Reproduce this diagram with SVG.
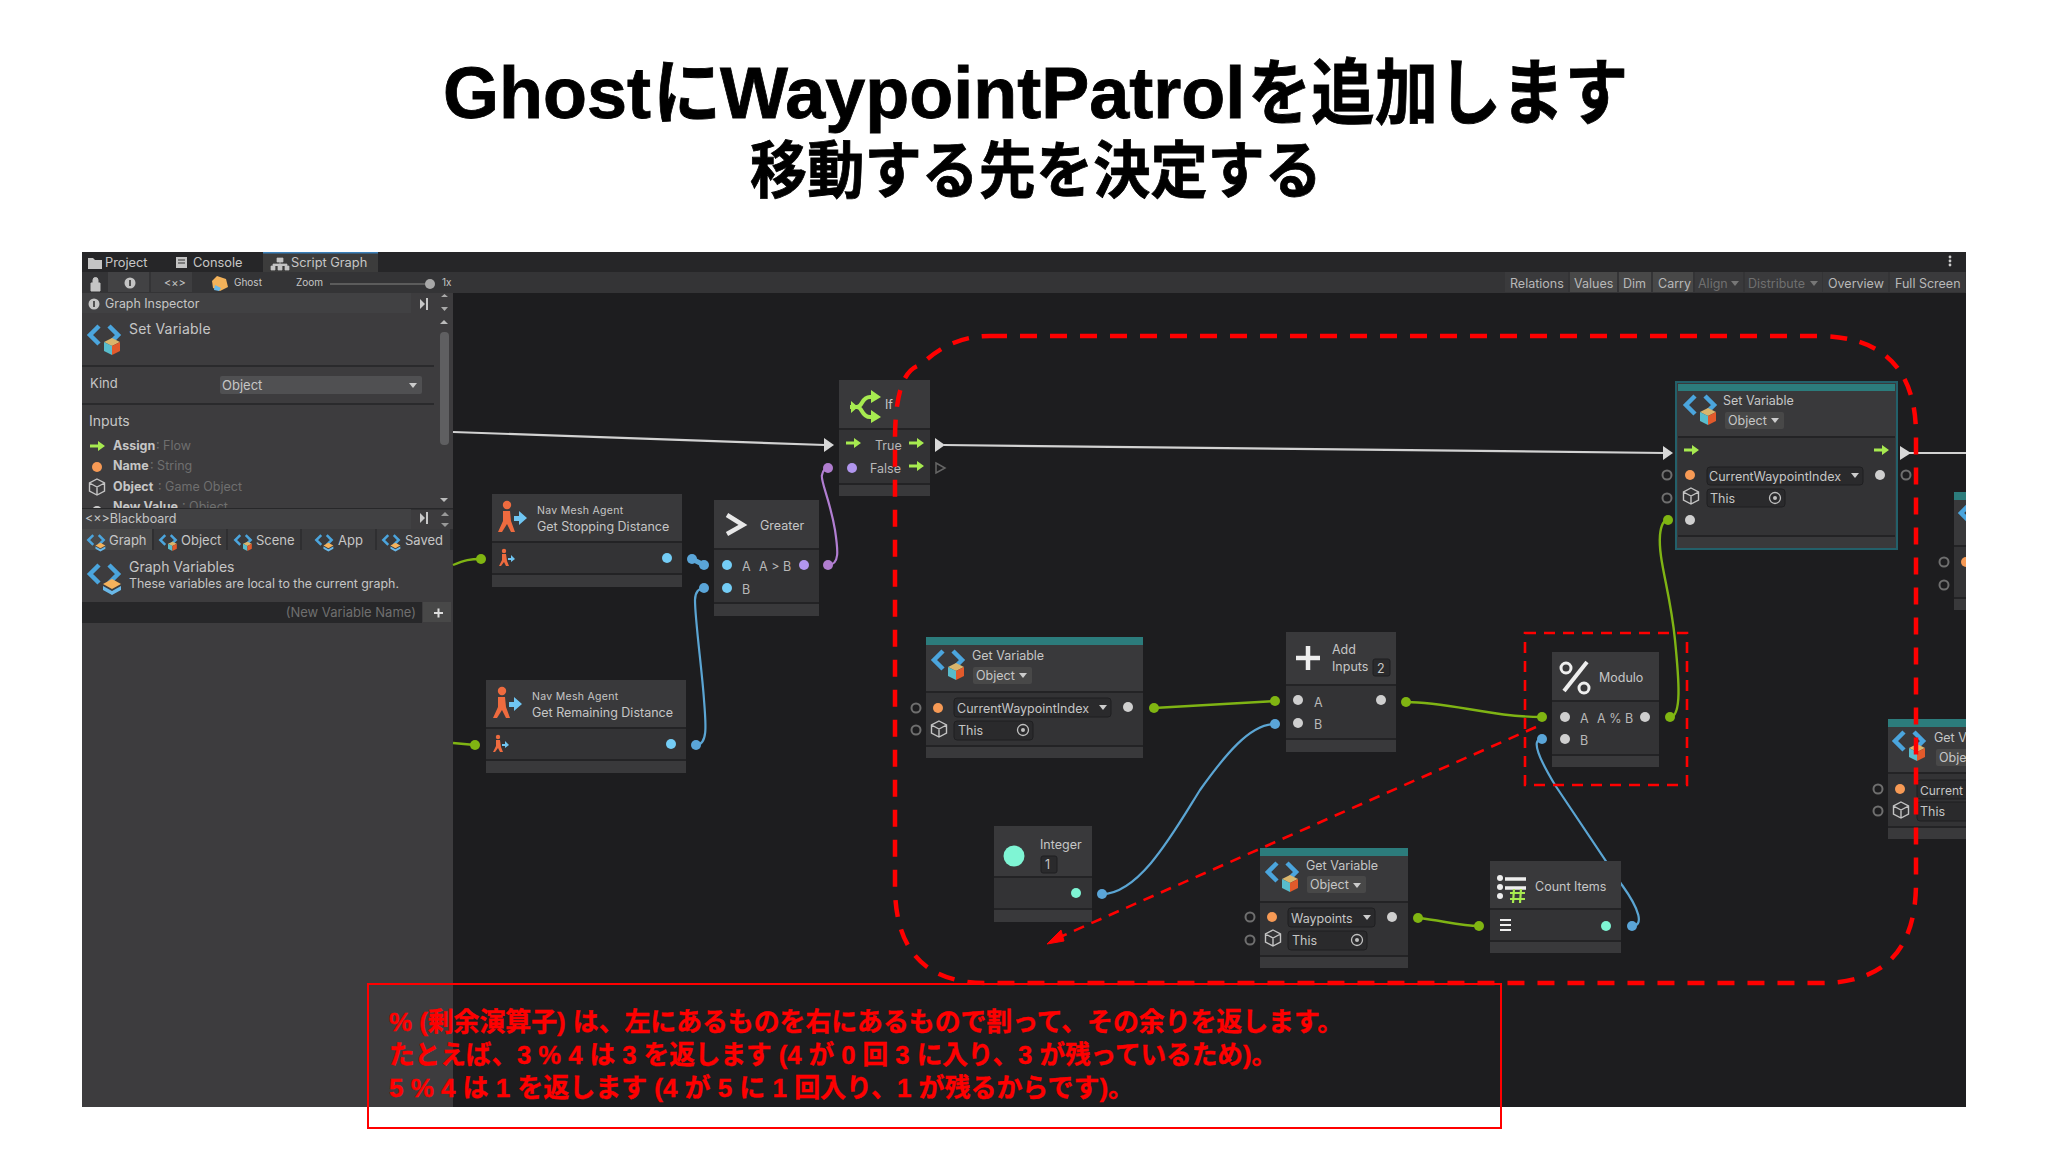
<svg xmlns="http://www.w3.org/2000/svg" xmlns:xlink="http://www.w3.org/1999/xlink" width="2048" height="1152" viewBox="0 0 2048 1152">
<style>
text{font-family:Inter,"Noto Sans","Noto Sans CJK JP",sans-serif;fill:#c6c6c6;font-size:12.5px}
.jp{font-family:"Liberation Sans","Noto Sans CJK JP",sans-serif;font-weight:700;fill:#000;stroke:#000;stroke-width:.8}
.note{font-family:"Liberation Sans","Noto Sans CJK JP",sans-serif;font-weight:700;fill:#f00;font-size:26.5px;stroke:#f00;stroke-width:.4}
.sm{font-size:12px}.tb{font-size:12.5px;fill:#b8b8b8}.dim,.tb.dim{fill:#6f6f6f}.btn{fill:#484848}
.bold{font-weight:700}
.n{fill:#39393b}.b{fill:#333335}.sep{stroke:#232325;stroke-width:2;fill:none}.teal{fill:#2c7c7c}
.fld{fill:#2a2a2c;stroke:#1f1f21}
.w{stroke:#d2d2d2;stroke-width:2.2;fill:none}.ww{fill:#d8d8d8}
.g{stroke:#7fb414;stroke-width:2.4;fill:none}.gd{fill:#80b512}
.bl{stroke:#5ba5d3;stroke-width:2.2;fill:none}.bd{fill:#5aa5d8}
.pu{stroke:#b17ed2;stroke-width:2.2;fill:none}.pd{fill:#b07dcf}
.pg{fill:#cfcfcf}.po{fill:#f79a55}.pb{fill:#74cdf6}.pp{fill:#b196ee}.pt{fill:#7ff5d4}
.op{fill:none;stroke:#6e6e6e;stroke-width:2}
.rd{fill:none;stroke:#f00;stroke-width:4.5;stroke-dasharray:17 13}
.rt{fill:none;stroke:#f00;stroke-width:2.6;stroke-dasharray:11 8}
</style>
<defs>
<clipPath id="scr"><rect x="82" y="252" width="1884" height="855"/></clipPath>
<clipPath id="nv"><rect x="82" y="490" width="360" height="18"/></clipPath>
<g id="chev"><path d="M-5,-9L-14,0L-5,9M5,-9L14,0L5,9" fill="none" stroke="#4ba5dd" stroke-width="4.5"/></g>
<g id="vi"><use href="#chev"/><path d="M8,3L16,7L8,11L0,7Z" fill="#d9b56c"/><path d="M0,7L8,11V20L0,16Z" fill="#58bccc"/><path d="M16,7L8,11V20L16,16Z" fill="#e25a2b"/></g>
<g id="vg"><use href="#chev"/><path d="M8,5L17,10L8,15L-1,10Z" fill="#f5b25c"/><path d="M-1,12L8,17L17,12V16L8,21L-1,16Z" fill="#6ab8e8"/></g>
<g id="nav"><circle cx="-3" cy="-13" r="4.2" fill="#ee6b3f"/><path d="M-7,-7H0L1,3L5,14H1L-3,6L-8,14H-12L-7,3Z" fill="#ee6b3f"/><path d="M4,-2H9V-7L17,0L9,7V3H4Z" fill="#6fc5f2"/></g>
<g id="navs"><circle cx="-1" cy="-7" r="2.2" fill="#ee6b3f"/><path d="M-3,-4H1L2,3L4,8H1L-1,4L-4,8H-6L-3,2Z" fill="#ee6b3f"/><path d="M3,0H6V-3L10,1L6,4V2H3Z" fill="#6fc5f2"/></g>
<g id="fa"><path d="M-7,-1.5H1V-5L8,0L1,5V1.5H-7Z" fill="#a7ea50"/></g>
<g id="cube"><path d="M0,-8L7.5,-4V4L0,8L-7.5,4V-4ZM-7.5,-4L0,0L7.5,-4M0,0V8" fill="none" stroke="#c4c4c4" stroke-width="1.4"/></g>
<g id="tg"><circle r="5.5" fill="none" stroke="#c0c0c0" stroke-width="1.3"/><circle r="2" fill="#c0c0c0"/></g>
<path id="dn" d="M-4,-2H4L0,3Z"/>
<g id="pin"><path d="M-5,-5L0,0L-5,5Z" fill="#c8c8c8"/><path d="M2,-6V6" stroke="#c8c8c8" stroke-width="2"/></g>
</defs>

<rect width="2048" height="1152" fill="#fff"/>
<text class="jp" y="118" style="font-size:72px"><tspan x="443">Ghost</tspan><tspan x="653" textLength="68" lengthAdjust="spacingAndGlyphs">に</tspan><tspan x="720">WaypointPatrol</tspan><tspan x="1248" textLength="380" lengthAdjust="spacingAndGlyphs">を追加します</tspan></text>
<text class="jp" x="750" y="193" style="font-size:62px" textLength="572" lengthAdjust="spacingAndGlyphs">移動する先を決定する</text>

<g clip-path="url(#scr)">
<rect x="82" y="252" width="1884" height="855" fill="#1d1d1f"/>

<g id="toolbar">
<rect x="82" y="252" width="1884" height="20" fill="#262628"/>
<rect x="263" y="252" width="115" height="20" fill="#3c3c3c"/><rect x="263" y="252" width="115" height="1.5" fill="#3a7fb8"/>
<path d="M88,258h5l2,2h7v9H88Z" fill="#c4c4c4"/><text x="105" y="267" style="font-size:12.8px">Project</text>
<rect x="176" y="257" width="11" height="11" fill="#c4c4c4"/><path d="M178,260h7M178,263h7" stroke="#333"/><text x="193" y="267" style="font-size:12.8px">Console</text>
<path d="M277,258h6v4h-6ZM271,266h4v4h-4ZM278,266h4v4h-4ZM285,266h4v4h-4ZM273,266v-2h14v2M280,262v4" fill="#c4c4c4" stroke="#c4c4c4" stroke-width=".7"/><text x="291" y="267" style="font-size:12.8px">Script Graph</text>
<rect x="82" y="272" width="1884" height="21" fill="#343436"/>
<rect x="108" y="272" width="41" height="20" fill="#424244"/><rect x="151" y="272" width="41" height="20" fill="#3e3e40"/>
<path d="M91,283h9v8h-9ZM93,283v-3a2.5,2.5 0 0 1 5,0v3" fill="#c4c4c4" stroke="#c4c4c4"/>
<circle cx="130" cy="283" r="5.5" fill="#c4c4c4"/><rect x="129.200" y="280" width="1.6" height="6" fill="#333"/>
<text x="164" y="287" style="font-size:11px">&lt;×&gt;</text>
<path d="M217,276l9,3l2,8l-8,4l-7,-3l-1,-7Z" fill="#f3b25a"/><path d="M215,285l6,3l-2,3l-5,-1Z" fill="#6ab8e8"/>
<text x="234" y="286" style="font-size:10px">Ghost</text><text x="296" y="286" style="font-size:10px">Zoom</text>
<rect x="330" y="283" width="100" height="2" fill="#5c5c5c"/><circle cx="430" cy="284" r="5" fill="#a8a8a8"/><text x="442" y="286" style="font-size:10px">1x</text>
<rect x="1505" y="272" width="63" height="20" fill="#3a3a3c"/><text class="tb" x="1510" y="288">Relations</text>
<rect x="1570" y="272" width="47" height="20" class="btn"/><text class="tb" x="1574" y="288">Values</text>
<rect x="1619" y="272" width="32" height="20" class="btn"/><text class="tb" x="1623" y="288">Dim</text>
<rect x="1653" y="272" width="40" height="20" class="btn"/><text class="tb" x="1658" y="288">Carry</text>
<rect x="1695" y="272" width="48" height="20" fill="#3a3a3c"/><text class="tb dim" x="1698" y="288">Align</text><use href="#dn" x="1735" y="283" fill="#777"/>
<rect x="1745" y="272" width="77" height="20" fill="#3a3a3c"/><text class="tb dim" x="1748" y="288">Distribute</text><use href="#dn" x="1814" y="283" fill="#777"/>
<rect x="1823" y="272" width="65" height="20" fill="#3a3a3c"/><text class="tb" x="1828" y="288">Overview</text>
<rect x="1890" y="272" width="75" height="20" fill="#3a3a3c"/><text class="tb" x="1895" y="288">Full Screen</text>
<circle cx="1950" cy="257" r="1.4" fill="#ccc"/><circle cx="1950" cy="261" r="1.4" fill="#ccc"/><circle cx="1950" cy="265" r="1.4" fill="#ccc"/>
</g>

<g id="inspector">
<rect x="82" y="293" width="371" height="814" fill="#3d3c3e"/>
<rect x="82" y="293" width="329" height="20" fill="#414143"/>
<circle cx="94" cy="304" r="5.5" fill="#c4c4c4"/><rect x="93.200" y="301" width="1.6" height="6" fill="#333"/>
<text x="105" y="308" style="font-size:12.4px">Graph Inspector</text><use href="#pin" x="425" y="304"/>
<path d="M441,297h7l-3.500,-3ZM441,307h7l-3.500,4Z" fill="#aaa"/>
<path d="M440,324h8l-4,-4Z" fill="#bbb"/><rect x="440" y="332" width="9" height="113" rx="4" fill="#5f5f61"/><path d="M440,498h8l-4,4Z" fill="#bbb"/>
<use href="#vi" x="104" y="335"/>
<text x="129" y="334" style="font-size:14px;letter-spacing:.2px">Set Variable</text>
<path d="M82,366H434M82,404H434" stroke="#252527" stroke-width="1.5"/>
<text x="90" y="388" style="font-size:13px">Kind</text>
<rect x="220" y="376" width="202" height="18" rx="2" fill="#505052"/><text x="222" y="390" style="font-size:13px">Object</text><use href="#dn" x="413" y="385" fill="#ccc"/>
<text x="89" y="426" style="font-size:14px">Inputs</text>
<use href="#fa" x="97" y="446"/><text class="bold" x="113" y="450">Assign</text><text class="dim" x="156" y="450"> : Flow</text>
<circle cx="97" cy="467" r="5" fill="#f79a55"/><text class="bold" x="113" y="470">Name</text><text class="dim" x="150" y="470"> : String</text>
<use href="#cube" x="97" y="487"/><text class="bold" x="113" y="491">Object</text><text class="dim" x="158" y="491"> : Game Object</text>
<g clip-path="url(#nv)"><circle cx="97" cy="511" r="5" fill="#ccc"/><text class="bold" x="113" y="511">New Value</text><text class="dim" x="182" y="511"> : Object</text></g>
<rect x="82" y="508" width="371" height="1.500" fill="#272729"/>
<rect x="82" y="509" width="329" height="20" fill="#414143"/>
<text x="85" y="523" style="font-size:12.500px">&lt;×&gt;Blackboard</text><use href="#pin" x="425" y="518"/>
<path d="M441,516h8l-4,-4ZM441,523h8l-4,4Z" fill="#999"/>
<rect x="82" y="529" width="371" height="21" fill="#2f2f31"/>
<rect x="82" y="529" width="70" height="21" class="btn"/><rect x="154" y="529" width="72" height="21" fill="#3a3a3c"/><rect x="228" y="529" width="72" height="21" fill="#3a3a3c"/><rect x="302" y="529" width="73" height="21" fill="#3a3a3c"/><rect x="377" y="529" width="73" height="21" fill="#3a3a3c"/>
<use href="#vg" transform="translate(96,540) scale(.55)"/><text x="109" y="545" style="font-size:13px">Graph</text>
<use href="#vi" transform="translate(168,540) scale(.55)"/><text x="181" y="545" style="font-size:13px">Object</text>
<use href="#vi" transform="translate(243,540) scale(.55)"/><text x="256" y="545" style="font-size:13px">Scene</text>
<use href="#vg" transform="translate(324,540) scale(.55)"/><text x="338" y="545" style="font-size:13px">App</text>
<use href="#vg" transform="translate(391,540) scale(.55)"/><text x="405" y="545" style="font-size:13px">Saved</text>
<use href="#vg" x="104" y="574"/>
<text x="129" y="572" style="font-size:14px">Graph Variables</text>
<text x="129" y="588" style="font-size:12.4px">These variables are local to the current graph.</text>
<rect x="82" y="602" width="340" height="21" fill="#272729"/><rect x="423" y="602" width="28" height="20" class="btn"/>
<text class="dim" x="416" y="617" text-anchor="end" style="font-size:13px">(New Variable Name)</text>
<path d="M434,613h9M438.500,608.500v9" stroke="#ddd" stroke-width="2"/>
</g>

<g id="connectors">
<path class="w" d="M453,432L825,445"/><path class="ww" d="M824,438L834,445L824,452Z"/>
<path class="w" d="M944,445L1665,453"/><path class="ww" d="M935,438L945,445L935,452Z"/><path class="ww" d="M1663,446L1673,453L1663,460Z"/>
<path class="w" d="M1905,453H1966"/><path class="ww" d="M1900,446L1911,453L1900,460Z"/>
<path d="M936,463L945,468L936,473Z" fill="none" stroke="#666" stroke-width="1.500"/>
<path class="g" d="M453,565C465,560 470,559 481,559"/><circle class="gd" cx="481" cy="559" r="5"/>
<path class="g" d="M453,743L475,745"/><circle class="gd" cx="475" cy="745" r="5"/>
<path class="bl" style="stroke-width:5" d="M692,559L704,565"/><circle class="bd" cx="692" cy="559" r="5"/><circle class="bd" cx="704" cy="565" r="5"/>
<path class="bl" d="M696,745C708,745 706,725 704,700C702,670 695,620 695,600C695,592 699,588 704,588"/><circle class="bd" cx="704" cy="588" r="5"/><circle class="bd" cx="696" cy="745" r="5"/>
<path class="pu" d="M828,565C840,565 838,550 835,530C830,500 820,480 822,475C823,470 825,468 828,468"/><circle class="pd" cx="828" cy="565" r="5"/><circle class="pd" cx="828" cy="468" r="5"/>
<path class="g" d="M1154,708L1275,701"/><circle class="gd" cx="1154" cy="708" r="5"/><circle class="gd" cx="1275" cy="701" r="5"/>
<path class="bl" d="M1102,894C1140,894 1175,830 1200,790C1225,755 1250,724 1275,724"/><circle class="bd" cx="1102" cy="894" r="5"/><circle class="bd" cx="1275" cy="724" r="5"/>
<path class="g" d="M1406,702C1450,702 1490,717 1542,717"/><circle class="gd" cx="1406" cy="702" r="5"/><circle class="gd" cx="1542" cy="717" r="5"/>
<path class="g" d="M1670,717C1682,717 1679,680 1675,640C1670,590 1658,560 1660,535C1661,525 1664,520 1668,520"/><circle class="gd" cx="1670" cy="717" r="5"/><circle class="gd" cx="1668" cy="520" r="5"/>
<path class="bl" d="M1632,926C1644,926 1640,910 1622,885L1555,785C1540,760 1530,739 1542,739"/><circle class="bd" cx="1632" cy="926" r="5"/><circle class="bd" cx="1542" cy="739" r="5"/>
<path class="g" d="M1418,918C1440,920 1460,926 1479,926"/><circle class="gd" cx="1418" cy="918" r="5"/><circle class="gd" cx="1479" cy="926" r="5"/>
</g>

<g id="if">
<rect class="n" x="839" y="380" width="91" height="116"/><rect class="b" x="839" y="429" width="91" height="54"/><path class="sep" d="M839,429H930M839,484H930"/>
<path d="M-12,0H-5C1,0 -1,-10 8,-10H11M-5,0C1,0 -1,10 8,10H11" transform="translate(862,407)" fill="none" stroke="#a7ea50" stroke-width="4"/>
<path d="M858,407L851,401V413ZM871,390L881,397L871,403ZM871,410L881,417L871,423Z" fill="#a7ea50"/>
<text x="885" y="409">If</text>
<use href="#fa" x="853" y="443"/><text class="tb" x="875" y="450">True</text><use href="#fa" x="916" y="443"/>
<circle class="pp" cx="852" cy="468" r="5"/><text class="tb" x="870" y="473">False</text><use href="#fa" x="916" y="466"/>
</g>

<g id="nav-stopping">
<rect class="n" x="492" y="494" width="190" height="93"/><rect class="b" x="492" y="542" width="190" height="32"/><path class="sep" d="M492,542H682M492,574H682"/>
<use href="#nav" x="510" y="518"/>
<text x="537" y="514" style="font-size:10.5px;letter-spacing:.3px">Nav Mesh Agent</text><text x="537" y="531">Get Stopping Distance</text>
<use href="#navs" x="505" y="558"/><circle class="pb" cx="667" cy="558" r="5"/>
</g>

<g id="nav-remaining">
<rect class="n" x="486" y="680" width="200" height="93"/><rect class="b" x="486" y="728" width="200" height="32"/><path class="sep" d="M486,728H686M486,760H686"/>
<use href="#nav" x="505" y="704"/>
<text x="532" y="700" style="font-size:10.5px;letter-spacing:.3px">Nav Mesh Agent</text><text x="532" y="717">Get Remaining Distance</text>
<use href="#navs" x="499" y="744"/><circle class="pb" cx="671" cy="744" r="5"/>
</g>

<g id="greater">
<rect class="n" x="714" y="500" width="105" height="116"/><rect class="b" x="714" y="549" width="105" height="54"/><path class="sep" d="M714,549H819M714,603H819"/>
<path d="M727,515L743,525L727,534" fill="none" stroke="#e8e8e8" stroke-width="4.500"/>
<text x="760" y="530">Greater</text>
<circle class="pb" cx="727" cy="565" r="5"/><text class="tb" x="742" y="571">A</text><text class="tb" x="759" y="571">A &gt; B</text><circle class="pp" cx="804" cy="565" r="5"/>
<circle class="pb" cx="727" cy="588" r="5"/><text class="tb" x="742" y="594">B</text>
</g>

<g id="get-current">
<rect class="n" x="926" y="637" width="217" height="121"/><rect class="teal" x="926" y="637" width="217" height="8"/><rect class="b" x="926" y="692" width="217" height="54"/><path class="sep" d="M926,692H1143M926,746H1143"/>
<use href="#vi" x="948" y="660"/><text x="972" y="660">Get Variable</text>
<rect class="btn" x="973" y="667" width="59" height="17" rx="2"/><text x="976" y="680">Object</text><use href="#dn" x="1023" y="675" fill="#ccc"/>
<circle class="op" cx="916" cy="708" r="4.500"/><circle class="op" cx="916" cy="730" r="4.500"/><circle class="po" cx="938" cy="708" r="5"/>
<rect class="fld" x="954" y="698" width="157" height="19" rx="3"/><text x="957" y="713">CurrentWaypointIndex</text><use href="#dn" x="1103" y="707" fill="#ccc"/>
<circle class="pg" cx="1128" cy="707" r="5"/><use href="#cube" x="939" y="729"/>
<rect class="fld" x="954" y="721" width="79" height="19" rx="3"/><text x="958" y="735">This</text><use href="#tg" x="1023" y="730"/>
</g>

<g id="add">
<rect class="n" x="1286" y="632" width="110" height="120"/><rect class="b" x="1286" y="685" width="110" height="54"/><path class="sep" d="M1286,685H1396M1286,739H1396"/>
<path d="M1308,646V670M1296,658H1320" stroke="#eee" stroke-width="4.500" fill="none"/>
<text x="1332" y="654">Add</text><text x="1332" y="671">Inputs</text>
<rect class="fld" x="1373" y="659" width="17" height="17" rx="2"/><text x="1377" y="673">2</text>
<circle class="pg" cx="1298" cy="700" r="5"/><text class="tb" x="1314" y="707">A</text><circle class="pg" cx="1381" cy="700" r="5"/>
<circle class="pg" cx="1298" cy="723" r="5"/><text class="tb" x="1314" y="729">B</text>
</g>

<g id="modulo">
<rect class="n" x="1552" y="652" width="107" height="115"/><rect class="b" x="1552" y="701" width="107" height="54"/><path class="sep" d="M1552,701H1659M1552,755H1659"/>
<path d="M1564,691L1587,662" stroke="#eee" stroke-width="4" fill="none"/><circle cx="1566" cy="668" r="5" fill="none" stroke="#eee" stroke-width="3"/><circle cx="1584" cy="688" r="5" fill="none" stroke="#eee" stroke-width="3"/>
<text x="1599" y="682">Modulo</text>
<circle class="pg" cx="1565" cy="717" r="5"/><text class="tb" x="1580" y="723">A</text><text class="tb" x="1597" y="723">A % B</text><circle class="pg" cx="1645" cy="717" r="5"/>
<circle class="pg" cx="1565" cy="739" r="5"/><text class="tb" x="1580" y="745">B</text>
</g>

<g id="integer">
<rect class="n" x="994" y="826" width="98" height="96"/><rect class="b" x="994" y="877" width="98" height="32"/><path class="sep" d="M994,877H1092M994,909H1092"/>
<circle class="pt" cx="1014" cy="856" r="10.500"/><text x="1040" y="849">Integer</text>
<rect class="fld" x="1041" y="856" width="16" height="17" rx="2"/><text x="1045" y="869">1</text>
<circle class="pt" cx="1076" cy="893" r="5"/>
</g>

<g id="get-waypoints">
<rect class="n" x="1260" y="848" width="148" height="120"/><rect class="teal" x="1260" y="848" width="148" height="8"/><rect class="b" x="1260" y="902" width="148" height="54"/><path class="sep" d="M1260,902H1408M1260,956H1408"/>
<use href="#vi" x="1282" y="872"/><text x="1306" y="870">Get Variable</text>
<rect class="btn" x="1307" y="876" width="59" height="17" rx="2"/><text x="1310" y="889">Object</text><use href="#dn" x="1357" y="885" fill="#ccc"/>
<circle class="op" cx="1250" cy="917" r="4.500"/><circle class="op" cx="1250" cy="940" r="4.500"/><circle class="po" cx="1272" cy="917" r="5"/>
<rect class="fld" x="1288" y="908" width="87" height="19" rx="3"/><text x="1291" y="923">Waypoints</text><use href="#dn" x="1367" y="917" fill="#ccc"/>
<circle class="pg" cx="1392" cy="917" r="5"/><use href="#cube" x="1273" y="938"/>
<rect class="fld" x="1288" y="931" width="79" height="19" rx="3"/><text x="1292" y="945">This</text><use href="#tg" x="1357" y="940"/>
</g>

<g id="count-items">
<rect class="n" x="1490" y="861" width="131" height="92"/><rect class="b" x="1490" y="909" width="131" height="32"/><path class="sep" d="M1490,909H1621M1490,941H1621"/>
<path d="M1505,879H1526M1505,888H1526" stroke="#eee" stroke-width="3.500" fill="none"/><circle cx="1500" cy="878" r="3" fill="#eee"/><circle cx="1500" cy="887" r="3" fill="#eee"/><circle cx="1500" cy="896" r="3" fill="#eee"/>
<path d="M1514,889L1513,903M1521,889L1520,903M1510,893H1525M1510,899H1525" stroke="#a7ea50" stroke-width="2.200" fill="none"/>
<path d="M1500,920H1511M1500,925H1511M1500,930H1511" stroke="#eee" stroke-width="2" fill="none"/>
<text x="1535" y="891">Count Items</text><circle class="pt" cx="1606" cy="926" r="5"/>
</g>

<g id="set-variable">
<rect class="n" x="1676" y="382" width="221" height="167" stroke="#23606a" stroke-width="2"/><rect class="teal" x="1678" y="384" width="217" height="7"/><rect class="b" x="1678" y="437" width="217" height="99"/><path class="sep" d="M1678,437H1895M1678,536H1895"/>
<use href="#vi" x="1700" y="405"/><text x="1723" y="405">Set Variable</text>
<rect class="btn" x="1725" y="412" width="59" height="17" rx="2"/><text x="1728" y="425">Object</text><use href="#dn" x="1775" y="420" fill="#ccc"/>
<use href="#fa" x="1691" y="450"/><use href="#fa" x="1881" y="450"/>
<circle class="op" cx="1667" cy="475" r="4.500"/><circle class="op" cx="1667" cy="498" r="4.500"/><circle class="po" cx="1690" cy="475" r="5"/>
<rect class="fld" x="1707" y="467" width="156" height="18" rx="3"/><text x="1709" y="481">CurrentWaypointIndex</text><use href="#dn" x="1855" y="475" fill="#ccc"/>
<circle class="pg" cx="1880" cy="475" r="5"/><circle class="op" cx="1906" cy="475" r="4.500"/><use href="#cube" x="1691" y="496"/>
<rect class="fld" x="1707" y="489" width="78" height="18" rx="3"/><text x="1710" y="503">This</text><use href="#tg" x="1775" y="498"/>
<circle class="pg" cx="1690" cy="520" r="5"/>
</g>

<g id="get-right">
<rect class="n" x="1888" y="719" width="90" height="120"/><rect class="teal" x="1888" y="719" width="90" height="8"/><rect class="b" x="1888" y="773" width="90" height="54"/><path class="sep" d="M1888,773H1978M1888,827H1978"/>
<use href="#vi" x="1909" y="741"/><text x="1934" y="742">Get V</text>
<rect class="btn" x="1936" y="749" width="50" height="17" rx="2"/><text x="1939" y="762">Obje</text>
<circle class="op" cx="1878" cy="789" r="4.500"/><circle class="op" cx="1878" cy="811" r="4.500"/><circle class="po" cx="1900" cy="789" r="5"/>
<rect class="fld" x="1917" y="780" width="70" height="19" rx="3"/><text x="1920" y="795" style="font-size:12px">Current</text><use href="#cube" x="1901" y="810"/>
<rect class="fld" x="1917" y="802" width="70" height="19" rx="3"/><text x="1920" y="816">This</text>
</g>

<g id="get-right-top">
<rect class="n" x="1954" y="492" width="40" height="118"/><rect class="teal" x="1954" y="492" width="40" height="8"/><rect class="b" x="1954" y="546" width="40" height="52"/><path class="sep" d="M1954,546H1994M1954,598H1994"/>
<use href="#vi" x="1975" y="513"/>
<circle class="op" cx="1944" cy="562" r="4.500"/><circle class="op" cx="1944" cy="585" r="4.500"/><circle class="po" cx="1966" cy="562" r="5"/>
</g>
</g>

<g id="annotations">
<path class="rd" d="M990,336H1817Q1916,336 1916,435V883Q1916,983 1821,983H986Q897,983 895,890V440Q895,370 921,365Q950,336 990,336Z"/>
<path class="rt" d="M1536,727L1060,937"/><path d="M1047,944L1061,930L1064,941Z" fill="#f00" stroke="#f00"/>
<rect class="rt" x="1525" y="633" width="162" height="152"/>
<rect x="368" y="984" width="1133" height="144" fill="none" stroke="#f00" stroke-width="2"/>
<text class="note" x="389" y="1031" textLength="954" lengthAdjust="spacingAndGlyphs">% (剰余演算子) は、左にあるものを右にあるもので割って、その余りを返します。</text>
<text class="note" x="389" y="1064" textLength="888" lengthAdjust="spacingAndGlyphs">たとえば、3 % 4 は 3 を返します (4 が 0 回 3 に入り、3 が残っているため)。</text>
<text class="note" x="389" y="1097" textLength="745" lengthAdjust="spacingAndGlyphs">5 % 4 は 1 を返します (4 が 5 に 1 回入り、1 が残るからです)。</text>
</g>
</svg>
